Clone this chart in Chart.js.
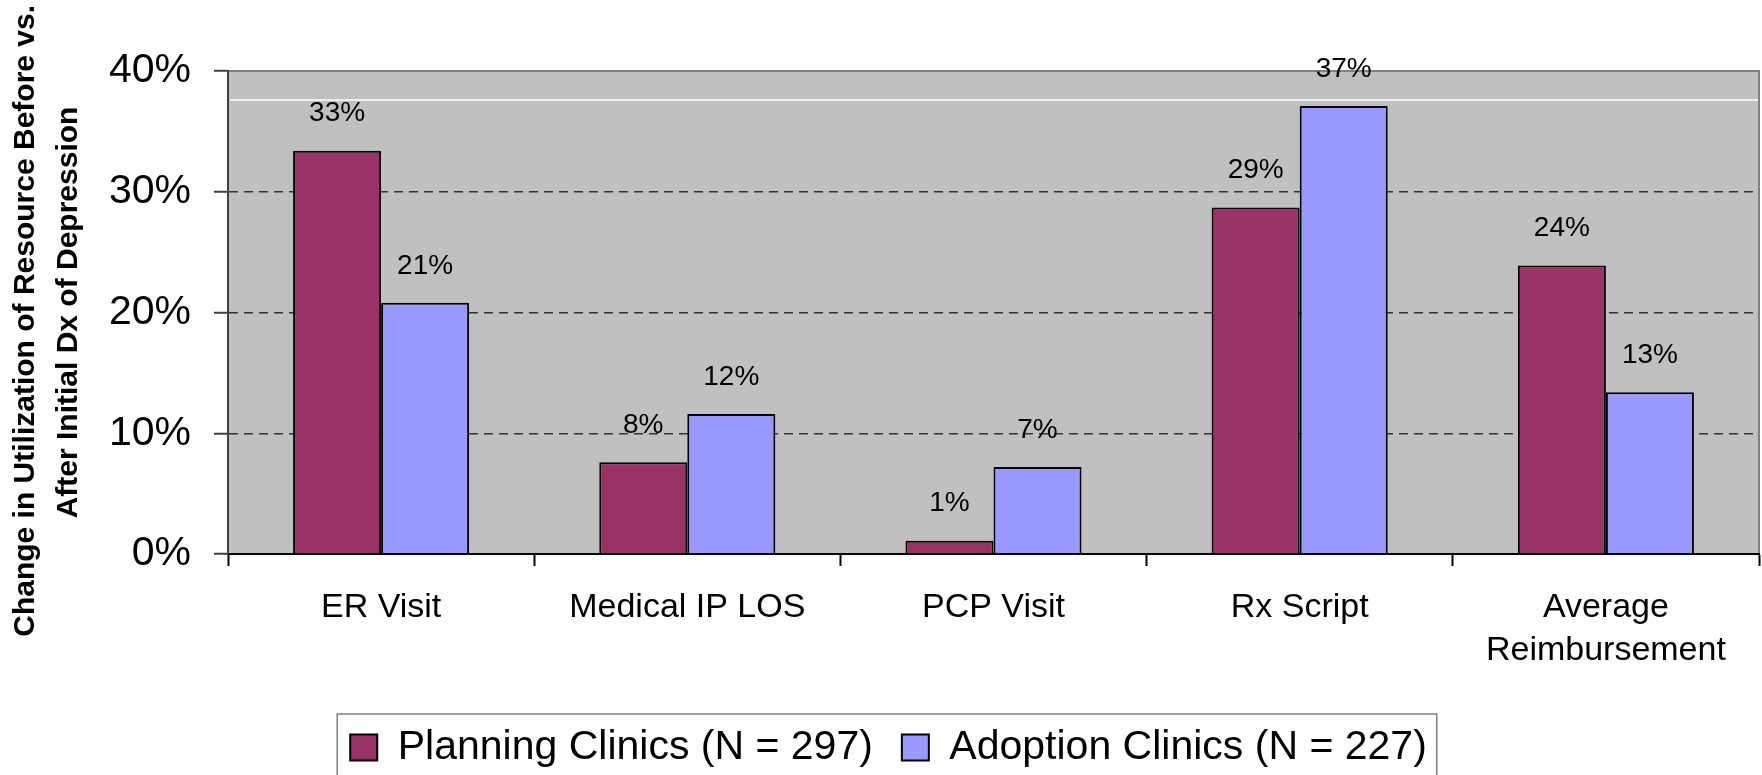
<!DOCTYPE html>
<html lang="en">
<head>
  <meta charset="UTF-8" />
  <title>Change in Utilization of Resource</title>
  <script src="https://cdn.jsdelivr.net/npm/chart.js"></script>
  <style>
    body {
      margin: 0;
      background: #fff;
      overflow: hidden;
    }
    canvas {
      display: block;
    }
  </style>
</head>
<body>
  <canvas id="chart" width="1762" height="775"></canvas>

  <script>
    // Daten
    const categories = ['ER Visit', 'Medical IP LOS', 'PCP Visit', 'Rx Script', ['Average', 'Reimbursement']];
    const planningLabel = 'Planning Clinics (N = 297)';
    const adoptionLabel = 'Adoption Clinics (N = 227)';
    const planningValues = [33.4, 7.6, 1.1, 28.7, 23.9];
    const adoptionValues = [20.8, 11.6, 7.2, 37.1, 13.4];
    const yTicks = [0, 10, 20, 30, 40];
    const whiteLineValue = 37.6;
    // trailing spaces shift the rotated first line a little downwards, like in the original
    const yTitle = ['Change in Utilization of Resource Before vs.  ', 'After Initial Dx of Depression'];

    const family = '"Liberation Sans", Arial, sans-serif';

    // grauer Hintergrund + Rahmen der Zeichenfläche
    const plotBackground = {
      id: 'plotBackground',
      beforeDraw(chart) {
        const { ctx, chartArea: a } = chart;
        ctx.save();
        ctx.fillStyle = '#c0c0c0';
        ctx.fillRect(a.left, a.top, a.width, a.height);
        ctx.strokeStyle = '#808080';
        ctx.lineWidth = 2;
        ctx.strokeRect(a.left, a.top, a.width, a.height);
        ctx.restore();
      },
      beforeDatasetsDraw(chart) {
        const { ctx, chartArea: a, scales: { y } } = chart;
        const py = y.getPixelForValue(whiteLineValue);
        ctx.save();
        ctx.strokeStyle = '#ffffff';
        ctx.lineWidth = 1.5;
        ctx.beginPath();
        ctx.moveTo(a.left + 2, py);
        ctx.lineTo(a.right - 1, py);
        ctx.stroke();
        ctx.restore();
      }
    };

    // Werte über den Balken
    const valueLabels = {
      id: 'valueLabels',
      afterDatasetsDraw(chart) {
        const ctx = chart.ctx;
        ctx.save();
        ctx.font = '28px ' + family;
        ctx.fillStyle = '#000';
        ctx.textAlign = 'center';
        ctx.textBaseline = 'middle';
        chart.data.datasets.forEach((ds, i) => {
          chart.getDatasetMeta(i).data.forEach((bar, j) => {
            ctx.fillText(Math.round(ds.data[j]) + '%', bar.x, bar.y - 37);
          });
        });
        ctx.restore();
      }
    };

    // Rahmen um die Legende
    const legendFrame = {
      id: 'legendFrame',
      afterDraw(chart) {
        const boxes = chart.legend.legendHitBoxes;
        if (!boxes || !boxes.length) return;
        const left = Math.min(...boxes.map(b => b.left)) - 13;
        const right = Math.max(...boxes.map(b => b.left + b.width)) + 10;
        const top = boxes[0].top - 13;
        const ctx = chart.ctx;
        ctx.save();
        ctx.strokeStyle = '#808080';
        ctx.lineWidth = 1.5;
        ctx.strokeRect(left, top, right - left, 200);
        ctx.restore();
      }
    };

    const ctx = document.getElementById('chart').getContext('2d');
    new Chart(ctx, {
      type: 'bar',
      data: {
        labels: categories,
        datasets: [
          {
            label: planningLabel,
            data: planningValues,
            backgroundColor: '#993366',
            borderColor: '#000',
            borderWidth: 2
          },
          {
            label: adoptionLabel,
            data: adoptionValues,
            backgroundColor: '#9999ff',
            borderColor: '#000',
            borderWidth: 2
          }
        ]
      },
      options: {
        responsive: false,
        animation: false,
        devicePixelRatio: 1,
        categoryPercentage: 0.575,
        barPercentage: 1,
        layout: {
          padding: { top: 71, right: 3, bottom: -3, left: 18 }
        },
        plugins: {
          tooltip: { enabled: false },
          legend: {
            position: 'bottom',
            labels: {
              boxWidth: 27,
              boxHeight: 26,
              padding: 29,
              color: '#000',
              font: { family: family, size: 41 }
            }
          }
        },
        scales: {
          x: {
            afterFit(scale) { scale.height = 144; },
            ticks: {
              color: '#000',
              padding: 20,
              font: { family: family, size: 34, lineHeight: 1.27 }
            },
            grid: {
              drawOnChartArea: false,
              offset: true,
              tickLength: 12,
              tickColor: '#000',
              tickWidth: 2
            },
            border: { color: '#000', width: 2 }
          },
          y: {
            min: 0,
            max: 40,
            afterFit(scale) { scale.width = 210; },
            afterBuildTicks(scale) { scale.ticks = yTicks.map(v => ({ value: v })); },
            ticks: {
              callback: v => v + '%',
              color: '#000',
              padding: 23,
              font: { family: family, size: 41 }
            },
            grid: {
              color: c => (c.tick && (c.tick.value === 0 || c.tick.value === 40)) ? 'rgba(0,0,0,0)' : '#333333',
              lineWidth: 1.5,
              tickLength: 14,
              tickColor: '#404040',
              tickWidth: 2
            },
            border: { color: '#404040', width: 2, dash: [9, 6] },
            title: {
              display: true,
              text: yTitle,
              color: '#000',
              padding: { top: -14, bottom: 0 },
              font: { family: family, size: 30, weight: 'bold', lineHeight: 1.43 }
            }
          }
        }
      },
      plugins: [plotBackground, valueLabels, legendFrame]
    });
  </script>
</body>
</html>
